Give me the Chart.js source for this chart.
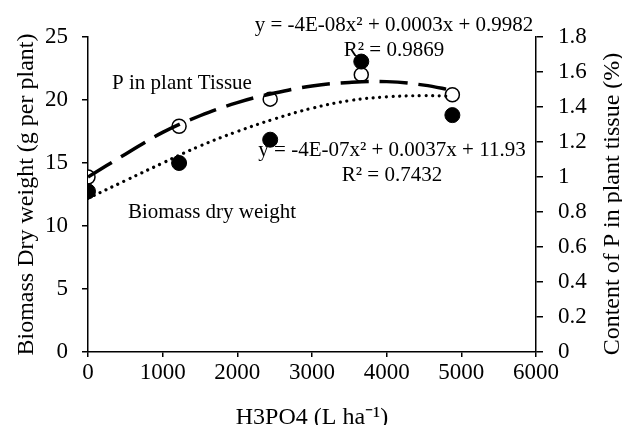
<!DOCTYPE html>
<html>
<head>
<meta charset="utf-8">
<script src="https://cdn.jsdelivr.net/npm/chart.js@4.4.1/dist/chart.umd.min.js"></script>
<style>
  body { margin: 0; background: #fff; }
  #chart { display: block; }
</style>
</head>
<body>
<canvas id="chart" width="622" height="425"></canvas>
<script>
// --- DATA ---
const doses = [0, 1220, 2440, 3660, 4880];
const biomass = [12.75, 15.0, 16.85, 23.05, 18.8];
const pTissue = [1.0, 1.29, 1.445, 1.585, 1.47];

// trendlines
const trendX = [0, 500, 1000, 1500, 2000, 2500, 3000, 3500, 4000, 4500, 4880];
const pTrend = [1.0, 1.13, 1.255, 1.35, 1.425, 1.48, 1.52, 1.54, 1.545, 1.525, 1.495];
const biomassTrend = [12.2, 13.6, 15.0, 16.35, 17.5, 18.5, 19.35, 19.95, 20.25, 20.35, 20.3];

const xTickLabels = ['0', '1000', '2000', '3000', '4000', '5000', '6000'];
const yTickLabels = ['0', '5', '10', '15', '20', '25'];
const y1TickLabels = ['0', '0.2', '0.4', '0.6', '0.8', '1', '1.2', '1.4', '1.6', '1.8'];

const notes = [
    { text: 'y = -4E-08x\u00B2 + 0.0003x + 0.9982', x: 394, y: 25 },
    { text: 'R\u00B2 = 0.9869', x: 394, y: 50 },
    { text: 'y = -4E-07x\u00B2 + 0.0037x + 11.93', x: 392, y: 150 },
    { text: 'R\u00B2 = 0.7432', x: 392, y: 175 },
    { text: 'P in plant Tissue', x: 182, y: 83 },
    { text: 'Biomass dry weight', x: 212, y: 212 }
];
const rightTitle = 'Content of P in plant tissue (%)';

const SERIF = '"Liberation Serif", "Times New Roman", serif';

const toXY = (xs, ys) => xs.map((x, i) => ({ x, y: ys[i] }));

// text annotations drawn under the markers
const notesPlugin = {
    id: 'notes',
    beforeDatasetsDraw(chart) {
        const ctx = chart.ctx;
        ctx.save();
        ctx.fillStyle = '#000';
        ctx.font = '21px ' + SERIF;
        ctx.textAlign = 'center';
        ctx.textBaseline = 'middle';
        notes.forEach(n => ctx.fillText(n.text, n.x, n.y));
        // secondary axis title reads bottom-to-top, like the left one
        ctx.font = '24px ' + SERIF;
        ctx.translate(613, 204);
        ctx.rotate(-Math.PI / 2);
        ctx.fillText(rightTitle, 0, 0);
        ctx.restore();
    }
};

const tickFont = { family: SERIF, size: 23 };

new Chart(document.getElementById('chart'), {
    type: 'scatter',
    data: {
        datasets: [
            {
                type: 'line', label: 'P trend', yAxisID: 'y1',
                data: toXY(trendX, pTrend),
                borderColor: '#000', borderWidth: 3.5, borderDash: [28, 11],
                pointRadius: 0, tension: 0.4, fill: false, order: 1
            },
            {
                type: 'line', label: 'Biomass trend', yAxisID: 'y',
                data: toXY(trendX, biomassTrend),
                borderColor: '#000', borderWidth: 3.2, borderDash: [0.01, 6.6],
                borderCapStyle: 'round', pointRadius: 0, tension: 0.4, fill: false, order: 2
            },
            {
                label: 'P in plant Tissue', yAxisID: 'y1',
                data: toXY(doses, pTissue),
                pointRadius: 7, pointBackgroundColor: '#fff', pointBorderColor: '#000',
                pointBorderWidth: 1.5, order: 3
            },
            {
                label: 'Biomass dry weight', yAxisID: 'y',
                data: toXY(doses, biomass),
                pointRadius: 7.5, pointBackgroundColor: '#000', pointBorderColor: '#000',
                pointBorderWidth: 1, order: 0
            }
        ]
    },
    options: {
        responsive: false,
        animation: false,
        layout: { padding: { top: 37, left: 0, right: 0, bottom: 0 } },
        plugins: { legend: { display: false }, tooltip: { enabled: false } },
        scales: {
            x: {
                type: 'linear', min: 0, max: 6000,
                afterFit: s => { s.height = 73; },
                ticks: {
                    stepSize: 1000, color: '#000', font: tickFont, padding: 2, maxRotation: 0,
                    callback: (v) => xTickLabels[Math.round(v / 1000)]
                },
                grid: { drawOnChartArea: false, drawTicks: true, tickLength: 5, color: '#000', lineWidth: 1.5 },
                border: { display: true, color: '#000', width: 1.5 },
                title: { display: true, text: 'H3PO4 (L ha\u207B\u00B9)', color: '#000', font: { family: SERIF, size: 24, lineHeight: 0.62 }, padding: 0 }
            },
            y: {
                position: 'left', min: 0, max: 25,
                afterFit: s => { s.width = 88; },
                ticks: {
                    stepSize: 5, color: '#000', font: tickFont, padding: 14,
                    callback: (v) => yTickLabels[Math.round(v / 5)]
                },
                grid: { drawOnChartArea: false, drawTicks: true, tickLength: 6, color: '#000', lineWidth: 1.5 },
                border: { display: true, color: '#000', width: 1.5 },
                title: { display: true, text: 'Biomass Dry weight (g per plant)', color: '#000', font: { family: SERIF, size: 24, lineHeight: 1.2 }, padding: { top: 12, bottom: 0 } }
            },
            y1: {
                position: 'right', min: 0, max: 1.8,
                afterFit: s => { s.width = 86; },
                ticks: {
                    stepSize: 0.2, color: '#000', font: tickFont, padding: 15,
                    callback: (v) => y1TickLabels[Math.round(v / 0.2)]
                },
                grid: { drawOnChartArea: false, drawTicks: true, tickLength: 7, color: '#000', lineWidth: 1.5 },
                border: { display: true, color: '#000', width: 1.5 },
                title: { display: false }
            }
        }
    },
    plugins: [notesPlugin]
});
</script>
</body>
</html>
